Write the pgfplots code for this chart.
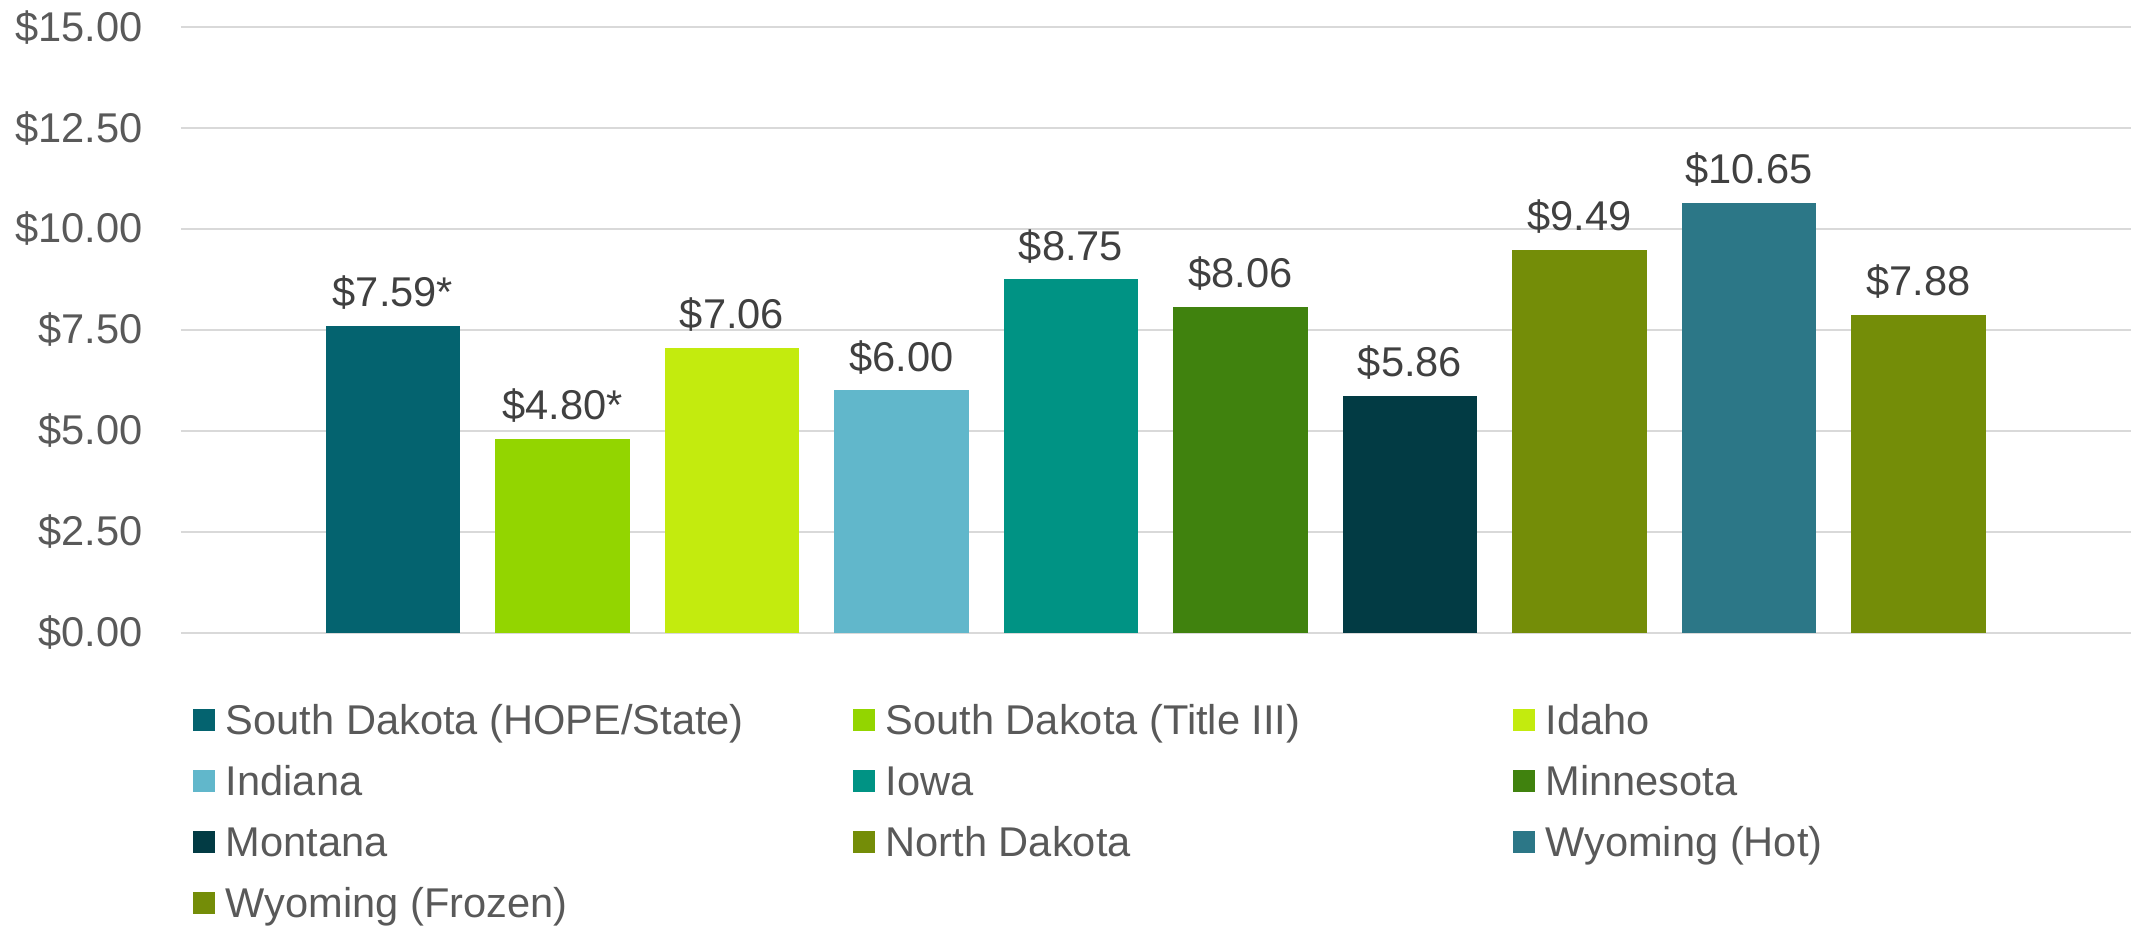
\documentclass[border=0pt]{standalone}
\usepackage{pgfplots}
\pgfplotsset{compat=1.18}
\usepackage{fontspec}
\setmainfont{Liberation Sans}
\definecolor{c1}{HTML}{04636F}
\definecolor{c2}{HTML}{93D500}
\definecolor{c3}{HTML}{C3EB0E}
\definecolor{c4}{HTML}{61B7CB}
\definecolor{c5}{HTML}{009384}
\definecolor{c6}{HTML}{40820E}
\definecolor{c7}{HTML}{023B44}
\definecolor{c8}{HTML}{748D08}
\definecolor{c9}{HTML}{2C7787}
\definecolor{c10}{HTML}{748D08}
\definecolor{tickgray}{HTML}{595959}
\definecolor{labelgray}{HTML}{404040}
\definecolor{gridgray}{HTML}{D9D9D9}
\newcommand{\chartfont}{\fontsize{20.8}{25}\selectfont}
\begin{document}
\begin{tikzpicture}
\begin{axis}[
  at={(90.5pt,147.7pt)}, anchor=south west,
  scale only axis, width=974.75pt, height=302.7pt,
  xmin=-1.25, xmax=10.25, ymin=0, ymax=15,
  ybar, bar width=0.795,
  xtick=\empty,
  ytick={0,2.5,5,7.5,10,12.5,15},
  yticklabels={\$0.00,\$2.50,\$5.00,\$7.50,\$10.00,\$12.50,\$15.00},
  yticklabel style={font=\chartfont, text=tickgray, inner sep=0pt, xshift=-19pt},
  major tick length=0pt,
  axis line style={draw=none},
  ymajorgrids, grid style={gridgray, line width=1pt},
  every node near coord/.append style={font=\chartfont, text=labelgray, inner sep=0pt, text depth=0pt, yshift=9.5pt},
  legend columns=3,
  legend cell align=left,
  legend image code/.code={\fill[#1] (0pt,-3.5pt) rectangle (11pt,7.5pt);},
  legend style={draw=none, fill=none, at={(0.0063,-0.119)}, anchor=north west,
    inner sep=0pt, outer sep=0pt, column sep=5.3pt, row sep=11pt,
    font=\chartfont, text=tickgray,
    nodes={inner sep=0pt, text height=15pt, text depth=4.5pt},
    /tikz/every even column/.append style={column sep=0pt}},
]
\addplot[fill=c1, draw=none, bar shift=0pt, nodes near coords={\$7.59*}] coordinates {(0,7.59)};
\addlegendentry{\makebox[313.6pt][l]{South Dakota (HOPE/State)}}
\addplot[fill=c2, draw=none, bar shift=0pt, nodes near coords={\$4.80*}] coordinates {(1,4.80)};
\addlegendentry{\makebox[313.6pt][l]{South Dakota (Title III)}}
\addplot[fill=c3, draw=none, bar shift=0pt, nodes near coords={\$7.06}] coordinates {(2,7.06)};
\addlegendentry{\makebox[313.6pt][l]{Idaho}}
\addplot[fill=c4, draw=none, bar shift=0pt, nodes near coords={\$6.00}] coordinates {(3,6.00)};
\addlegendentry{\makebox[313.6pt][l]{Indiana}}
\addplot[fill=c5, draw=none, bar shift=0pt, nodes near coords={\$8.75}] coordinates {(4,8.75)};
\addlegendentry{\makebox[313.6pt][l]{Iowa}}
\addplot[fill=c6, draw=none, bar shift=0pt, nodes near coords={\$8.06}] coordinates {(5,8.06)};
\addlegendentry{\makebox[313.6pt][l]{Minnesota}}
\addplot[fill=c7, draw=none, bar shift=0pt, nodes near coords={\$5.86}] coordinates {(6,5.86)};
\addlegendentry{\makebox[313.6pt][l]{Montana}}
\addplot[fill=c8, draw=none, bar shift=0pt, nodes near coords={\$9.49}] coordinates {(7,9.49)};
\addlegendentry{\makebox[313.6pt][l]{North Dakota}}
\addplot[fill=c9, draw=none, bar shift=0pt, nodes near coords={\$10.65}] coordinates {(8,10.65)};
\addlegendentry{\makebox[313.6pt][l]{Wyoming (Hot)}}
\addplot[fill=c10, draw=none, bar shift=0pt, nodes near coords={\$7.88}] coordinates {(9,7.88)};
\addlegendentry{\makebox[313.6pt][l]{Wyoming (Frozen)}}
\end{axis}
\pgfresetboundingbox
\path (0,0) rectangle (1066.5pt,464pt);
\end{tikzpicture}
\end{document}
